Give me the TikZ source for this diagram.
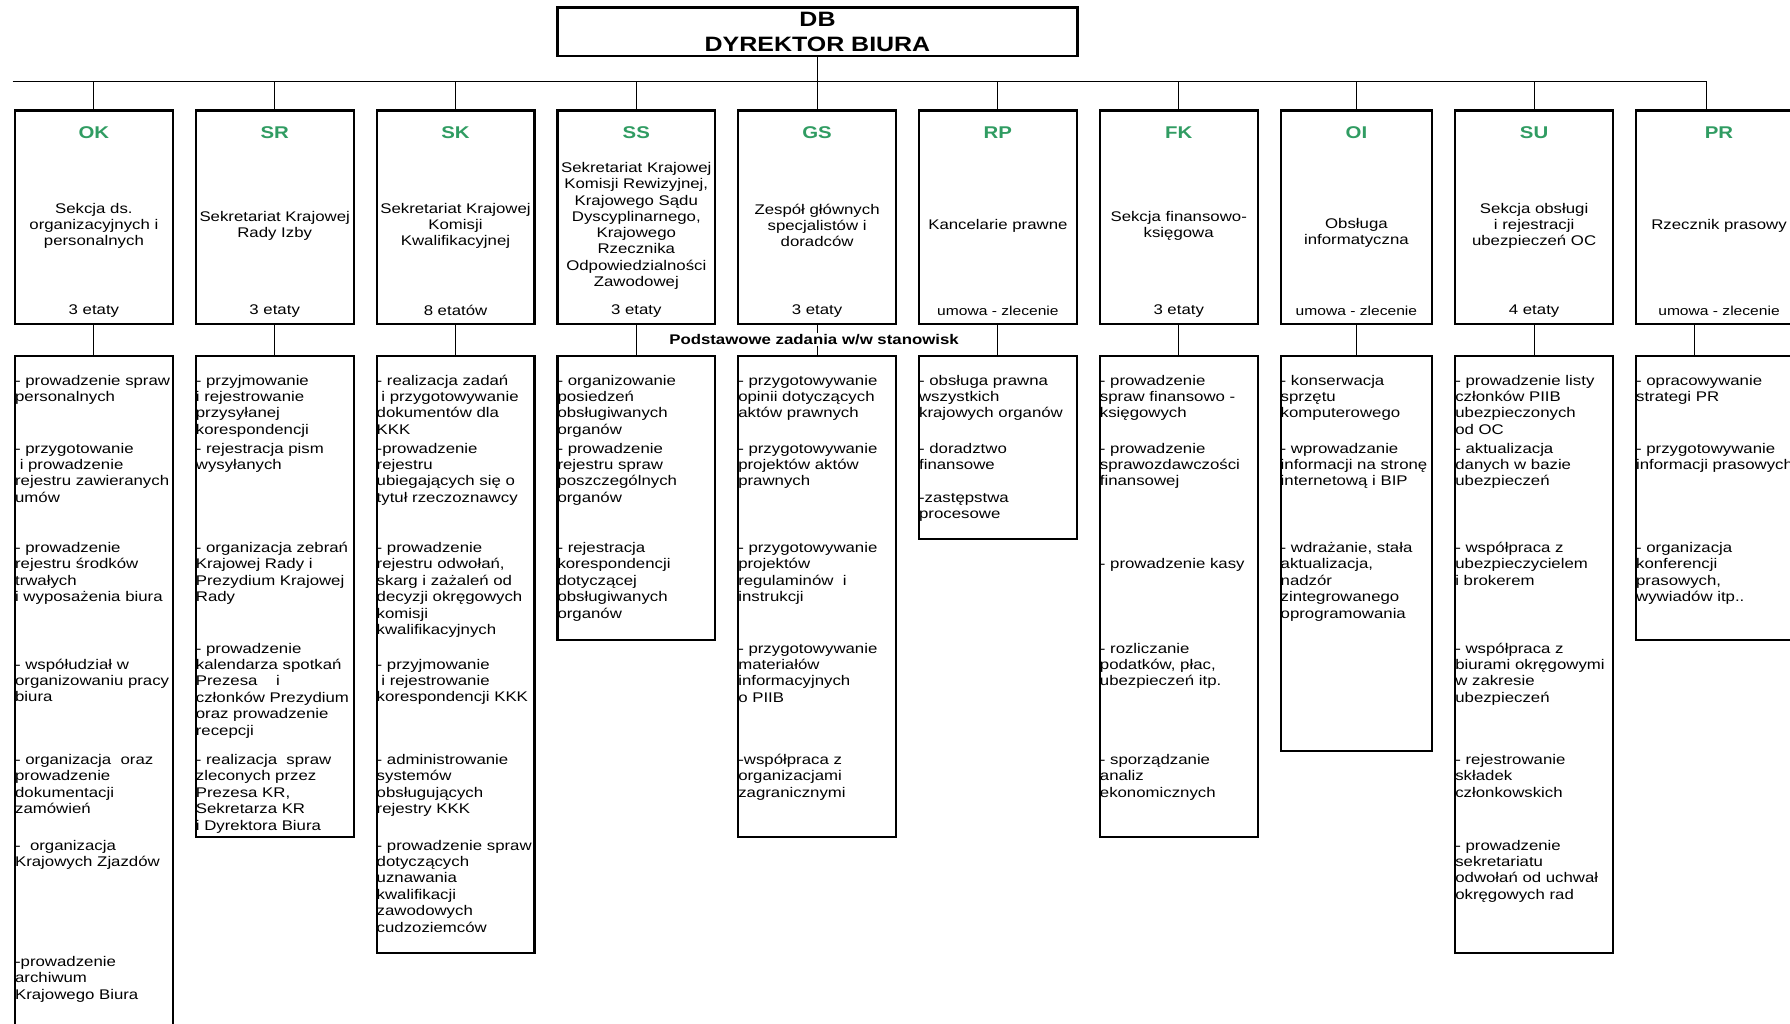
\documentclass[tikz,border=0pt]{standalone}
\usepackage{fontspec}
\setmainfont{Liberation Sans}[FakeStretch=1.2]
\usetikzlibrary{positioning}
\definecolor{codegreen}{RGB}{48,156,98}

\begin{document}
\begin{tikzpicture}[x=1pt, y=-1pt, node distance=20.8pt,
    unit/.style={rectangle, draw, line width=2.2pt, minimum width=157.8pt, minimum height=213.4pt, inner sep=0pt},
    tasks/.style={rectangle, draw, line width=2.2pt, minimum width=157.8pt, inner sep=0pt},
    code/.style={text=codegreen, inner sep=0pt, font=\fontsize{17}{20}\selectfont\bfseries},
    desc/.style={align=center, inner sep=0pt, font=\fontsize{14}{16}\selectfont},
    staff/.style={inner sep=0pt, font=\fontsize{14}{16}\selectfont},
    list/.style={anchor=north west, inner sep=0pt, text width=170pt, align=left, font=\fontsize{14}{16.4}\selectfont},
    link/.style={line width=1pt}]
\useasboundingbox (0,0) rectangle (1790,1023);
\clip (0,0) rectangle (1790,1023);

\node [rectangle, draw, line width=2.6pt, minimum width=520pt, minimum height=48.5pt, align=center, font=\fontsize{20.8}{25.3}\selectfont\bfseries] (db) at (817.5,31.7) {DB\\DYREKTOR BIURA};
\coordinate (busl) at (12.6,81);
\coordinate (busr) at (1706,81);

\node [unit] (okUnit) at (93.9,217.15) {};
\node [unit, right=of okUnit] (srUnit) {};
\node [unit, right=of srUnit] (skUnit) {};
\node [unit, right=of skUnit] (ssUnit) {};
\node [unit, right=of ssUnit] (gsUnit) {};
\node [unit, right=of gsUnit] (rpUnit) {};
\node [unit, right=of rpUnit] (fkUnit) {};
\node [unit, right=of fkUnit, minimum width=151.6pt] (oiUnit) {};
\node [unit, right=of oiUnit] (suUnit) {};
\node [unit, right=of suUnit, minimum width=166pt] (prUnit) {};

\node [code] (okCode) at ([yshift=-23.5pt]okUnit.north) {OK};
\node [code] (srCode) at ([yshift=-23.5pt]srUnit.north) {SR};
\node [code] (skCode) at ([yshift=-23.5pt]skUnit.north) {SK};
\node [code] (ssCode) at ([yshift=-23.5pt]ssUnit.north) {SS};
\node [code] (gsCode) at ([yshift=-23.5pt]gsUnit.north) {GS};
\node [code] (rpCode) at ([yshift=-23.5pt]rpUnit.north) {RP};
\node [code] (fkCode) at ([yshift=-23.5pt]fkUnit.north) {FK};
\node [code] (oiCode) at ([yshift=-23.5pt]oiUnit.north) {OI};
\node [code] (suCode) at ([yshift=-23.5pt]suUnit.north) {SU};
\node [code] (prCode) at ([yshift=-23.5pt]prUnit.north) {PR};

\node [desc] (okName) at ([yshift=-116.5pt]okUnit.north) {Sekcja ds.\\organizacyjnych i\\personalnych};
\node [desc] (srName) at ([yshift=-116.5pt]srUnit.north) {Sekretariat Krajowej\\Rady Izby};
\node [desc] (skName) at ([yshift=-116.5pt]skUnit.north) {Sekretariat Krajowej\\Komisji\\Kwalifikacyjnej};
\node [desc, font=\fontsize{14}{16.3}\selectfont] (ssName) at ([yshift=-116.5pt]ssUnit.north) {Sekretariat Krajowej\\Komisji Rewizyjnej,\\Krajowego Sądu\\Dyscyplinarnego,\\Krajowego\\Rzecznika\\Odpowiedzialności\\Zawodowej};
\node [desc] (gsName) at ([yshift=-116.5pt]gsUnit.north) {Zespół głównych\\specjalistów i\\doradców};
\node [desc] (rpName) at ([yshift=-116.5pt]rpUnit.north) {Kancelarie prawne};
\node [desc] (fkName) at ([yshift=-116.5pt]fkUnit.north) {Sekcja finansowo-\\księgowa};
\node [desc] (oiName) at ([yshift=-124pt]oiUnit.north) {Obsługa\\informatyczna};
\node [desc] (suName) at ([yshift=-116.5pt]suUnit.north) {Sekcja obsługi\\i rejestracji\\ubezpieczeń OC};
\node [desc] (prName) at ([yshift=-116.5pt]prUnit.north) {Rzecznik prasowy};

\node [staff] (okStaff) at ([yshift=-201.5pt]okUnit.north) {3 etaty};
\node [staff] (srStaff) at ([yshift=-201.5pt]srUnit.north) {3 etaty};
\node [staff] (skStaff) at ([yshift=-201.5pt]skUnit.north) {8 etatów};
\node [staff] (ssStaff) at ([yshift=-201.5pt]ssUnit.north) {3 etaty};
\node [staff] (gsStaff) at ([yshift=-201.5pt]gsUnit.north) {3 etaty};
\node [staff, font=\fontsize{13}{15}\selectfont] (rpStaff) at ([yshift=-201.5pt]rpUnit.north) {umowa - zlecenie};
\node [staff] (fkStaff) at ([yshift=-201.5pt]fkUnit.north) {3 etaty};
\node [staff, font=\fontsize{13}{15}\selectfont] (oiStaff) at ([yshift=-201.5pt]oiUnit.north) {umowa - zlecenie};
\node [staff] (suStaff) at ([yshift=-201.5pt]suUnit.north) {4 etaty};
\node [staff, font=\fontsize{13}{15}\selectfont] (prStaff) at ([yshift=-201.5pt]prUnit.north) {umowa - zlecenie};

\node [tasks, below=29.7pt of okUnit, minimum height=745pt] (okTasks) {};
\node [tasks, below=29.7pt of srUnit, minimum height=481pt] (srTasks) {};
\node [tasks, below=29.7pt of skUnit, minimum height=597.3pt] (skTasks) {};
\node [tasks, below=29.7pt of ssUnit, minimum height=284pt] (ssTasks) {};
\node [tasks, below=29.7pt of gsUnit, minimum height=481pt] (gsTasks) {};
\node [tasks, below=29.7pt of rpUnit, minimum height=183pt] (rpTasks) {};
\node [tasks, below=29.7pt of fkUnit, minimum height=481pt] (fkTasks) {};
\node [tasks, below=29.7pt of oiUnit, minimum width=151.6pt, minimum height=395.3pt] (oiTasks) {};
\node [tasks, below=29.7pt of suUnit, minimum height=597.3pt] (suTasks) {};
\node [tasks, below=29.7pt of prUnit, minimum width=166pt, minimum height=284pt] (prTasks) {};

\node [list] (okList) at ([xshift=1pt,yshift=-20pt]okTasks.north west) {- prowadzenie spraw\\personalnych\\[35.2pt]- przygotowanie\\\ i prowadzenie\\rejestru zawieranych\\umów\\[33.8pt]- prowadzenie\\rejestru środków\\trwałych\\i wyposażenia biura\\[51pt]- współudział w\\organizowaniu pracy\\biura\\[46.2pt]- organizacja\ \ oraz\\prowadzenie\\dokumentacji\\zamówień\\[20pt]-\ \ organizacja\\Krajowych Zjazdów\\[83.6pt]-prowadzenie\\archiwum\\Krajowego Biura};
\node [list] (srList) at ([xshift=1pt,yshift=-20pt]srTasks.north west) {- przyjmowanie\\i rejestrowanie\\przysyłanej\\korespondencji\\[2.4pt]- rejestracja pism\\wysyłanych\\[66.6pt]- organizacja zebrań\\Krajowej Rady i\\Prezydium Krajowej\\Rady\\[35pt]- prowadzenie\\kalendarza spotkań\\Prezesa\ \ \ \ i\\członków Prezydium\\oraz prowadzenie\\recepcji\\[13pt]- realizacja\ \ spraw\\zleconych przez\\Prezesa KR,\\Sekretarza KR\\i Dyrektora Biura};
\node [list] (skList) at ([xshift=1pt,yshift=-20pt]skTasks.north west) {- realizacja zadań\\\ i przygotowywanie\\dokumentów dla\\KKK\\[2.4pt]-prowadzenie\\rejestru\\ubiegających się o\\tytuł rzeczoznawcy\\[33.8pt]- prowadzenie\\rejestru odwołań,\\skarg i zażaleń od\\decyzji okręgowych\\komisji\\kwalifikacyjnych\\[18.2pt]- przyjmowanie\\\ i rejestrowanie\\korespondencji KKK\\[46.2pt]- administrowanie\\systemów\\obsługujących\\rejestry KKK\\[20pt]- prowadzenie spraw\\dotyczących\\uznawania\\kwalifikacji\\zawodowych\\cudzoziemców};
\node [list] (ssList) at ([xshift=1pt,yshift=-20pt]ssTasks.north west) {- organizowanie\\posiedzeń\\obsługiwanych\\organów\\[2.4pt]- prowadzenie\\rejestru spraw\\poszczególnych\\organów\\[33.8pt]- rejestracja\\korespondencji\\dotyczącej\\obsługiwanych\\organów};
\node [list] (gsList) at ([xshift=1pt,yshift=-20pt]gsTasks.north west) {- przygotowywanie\\opinii dotyczących\\aktów prawnych\\[18.8pt]- przygotowywanie\\projektów aktów\\prawnych\\[50.2pt]- przygotowywanie\\projektów\\regulaminów\ \ i\\instrukcji\\[35pt]- przygotowywanie\\materiałów\\informacyjnych\\o PIIB\\[45.8pt]-współpraca z\\organizacjami\\zagranicznymi};
\node [list] (rpList) at ([xshift=1pt,yshift=-20pt]rpTasks.north west) {- obsługa prawna\\wszystkich\\krajowych organów\\[18.8pt]- doradztwo\\finansowe\\[16.6pt]-zastępstwa\\procesowe};
\node [list] (fkList) at ([xshift=1pt,yshift=-20pt]fkTasks.north west) {- prowadzenie\\spraw finansowo -\\księgowych\\[18.8pt]- prowadzenie\\sprawozdawczości\\finansowej\\[66.2pt]- prowadzenie kasy\\[68.2pt]- rozliczanie\\podatków, płac,\\ubezpieczeń itp.\\[62.2pt]- sporządzanie\\analiz\\ekonomicznych};
\node [list] (oiList) at ([xshift=1pt,yshift=-20pt]oiTasks.north west) {- konserwacja\\sprzętu\\komputerowego\\[18.8pt]- wprowadzanie\\informacji na stronę\\internetową i BIP\\[50.2pt]- wdrażanie, stała\\aktualizacja,\\nadzór\\zintegrowanego\\oprogramowania};
\node [list] (suList) at ([xshift=1pt,yshift=-20pt]suTasks.north west) {- prowadzenie listy\\członków PIIB\\ubezpieczonych\\od OC\\[2.4pt]- aktualizacja\\danych w bazie\\ubezpieczeń\\[50.2pt]- współpraca z\\ubezpieczycielem\\i brokerem\\[51.4pt]- współpraca z\\biurami okręgowymi\\w zakresie\\ubezpieczeń\\[45.8pt]- rejestrowanie\\składek\\członkowskich\\[36.4pt]- prowadzenie\\sekretariatu\\odwołań od uchwał\\okręgowych rad};
\node [list] (prList) at ([xshift=1pt,yshift=-20pt]prTasks.north west) {- opracowywanie\\strategi PR\\[35.2pt]- przygotowywanie\\informacji prasowych\\[66.6pt]- organizacja\\konferencji\\prasowych,\\wywiadów itp..};

\draw [link] (busl) -- (busr);
\draw [link] (db.south) -- (db.south |- busl);
\draw [link] (okUnit.north) -- (okUnit.north |- busl) (srUnit.north) -- (srUnit.north |- busl)
    (skUnit.north) -- (skUnit.north |- busl) (ssUnit.north) -- (ssUnit.north |- busl)
    (gsUnit.north) -- (gsUnit.north |- busl) (rpUnit.north) -- (rpUnit.north |- busl)
    (fkUnit.north) -- (fkUnit.north |- busl) (oiUnit.north) -- (oiUnit.north |- busl)
    (suUnit.north) -- (suUnit.north |- busl) ([xshift=-13pt]prUnit.north) -- ([xshift=-13pt]prUnit.north |- busl);
\draw [link] (okUnit.south) -- (okTasks.north) (srUnit.south) -- (srTasks.north)
    (skUnit.south) -- (skTasks.north) (ssUnit.south) -- (ssTasks.north)
    (gsUnit.south) -- (gsTasks.north) (rpUnit.south) -- (rpTasks.north)
    (fkUnit.south) -- (fkTasks.north) (oiUnit.south) -- (oiTasks.north)
    (suUnit.south) -- (suTasks.north) ([xshift=-25pt]prUnit.south) -- ([xshift=-25pt]prTasks.north);

\node [fill=white, inner sep=1pt, font=\fontsize{14}{16}\selectfont\bfseries] (tasksHead) at (814,339.3) {Podstawowe zadania w/w stanowisk};
\end{tikzpicture}
\end{document}
